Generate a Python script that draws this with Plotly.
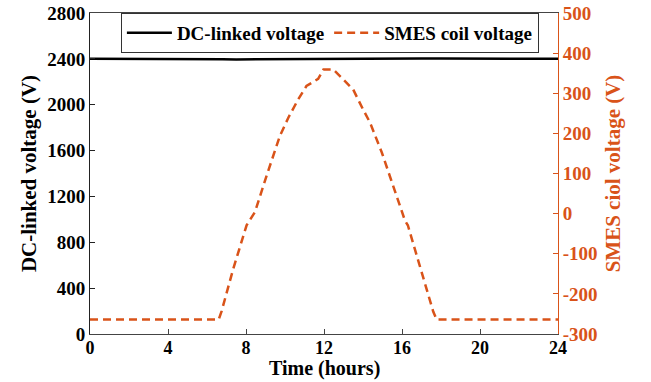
import plotly.graph_objects as go

# Time axis (hours) and measured voltages
hours_dc = [0, 2, 4, 6, 6.8, 7.5, 8.5, 9.5, 10.5, 11.5, 12.2, 13, 14, 15, 16, 17, 18, 20, 22, 24]
dc_voltage = [2402, 2402, 2402, 2401, 2396, 2395, 2396, 2397, 2399, 2401, 2404, 2406, 2406, 2405, 2405, 2404, 2403, 2402, 2401, 2401]

hours_smes = [0, 6.6, 6.75, 7.35, 8.03, 8.46, 9.06, 9.74, 10.17, 10.68, 11.1, 11.7, 11.97,
              12.48, 13.0, 13.5, 14.0, 14.36, 14.96, 15.55, 16.15, 16.3, 16.9, 17.6, 17.78, 24]
smes_voltage = [-264, -264, -243, -137, -29, 4, 95, 194, 239, 285, 318, 336, 359,
                359, 334, 309, 260, 227, 153, 70, -17, -29, -128, -244, -264, -264]

x_ticks = [0, 4, 8, 12, 16, 20, 24]
left_ticks = [0, 400, 800, 1200, 1600, 2000, 2400, 2800]
right_ticks = [-300, -200, -100, 0, 100, 200, 300, 400, 500]

ORANGE = "#D95319"
FONT = "Liberation Serif"
TICK_SIZE = 19
TITLE_SIZE = 21

fig = go.Figure()
fig.add_trace(go.Scatter(
    x=hours_dc, y=dc_voltage, mode="lines", name="<b>DC-linked voltage</b>",
    line=dict(color="black", width=2.5), yaxis="y"))
fig.add_trace(go.Scatter(
    x=hours_smes, y=smes_voltage, mode="lines", name="<b>SMES coil voltage</b>",
    line=dict(color=ORANGE, width=2.5, dash="8px,5px"), yaxis="y2"))

fig.update_layout(
    width=651, height=382,
    margin=dict(l=90, r=93, t=13, b=48),
    paper_bgcolor="white", plot_bgcolor="white",
    font=dict(family=FONT, size=TICK_SIZE, color="black"),
    showlegend=True,
    legend=dict(
        orientation="h", x=0.066, y=1.0, xanchor="left", yanchor="top",
        bgcolor="white", bordercolor="#333333", borderwidth=1,
        font=dict(family=FONT, size=19, color="black"),
        itemwidth=45, tracegroupgap=0,
    ),
    xaxis=dict(
        range=[0, 24], tickvals=x_ticks, ticktext=[f"<b>{v}</b>" for v in x_ticks],
        showgrid=False, zeroline=False, automargin=False,
        showline=True, linecolor="#444444", linewidth=1, mirror=True,
        ticks="inside", ticklen=5, tickcolor="#444444", ticklabelstandoff=-3,
        tickfont=dict(family=FONT, size=18, color="black"),
    ),
    yaxis=dict(
        range=[0, 2800], tickvals=left_ticks, ticktext=[f"<b>{v}</b>" for v in left_ticks],
        showgrid=False, zeroline=False, automargin=False,
        showline=True, linecolor="#222222", linewidth=1,
        ticks="inside", ticklen=5, tickcolor="#222222",
        tickfont=dict(family=FONT, size=TICK_SIZE, color="black"),
        title=dict(text="<b>DC-linked voltage (V)</b>", font=dict(family=FONT, size=TITLE_SIZE), standoff=4),
    ),
    yaxis2=dict(
        range=[-300, 500], tickvals=right_ticks, ticktext=[f"<b>{v}</b>" for v in right_ticks],
        overlaying="y", side="right", automargin=False,
        showgrid=False, zeroline=False,
        showline=True, linecolor=ORANGE, linewidth=1,
        ticks="inside", ticklen=5, tickcolor=ORANGE,
        tickfont=dict(family=FONT, size=TICK_SIZE, color=ORANGE),
        title=dict(text="<b>SMES ciol voltage (V)</b>", font=dict(family=FONT, size=TITLE_SIZE, color=ORANGE), standoff=8),
    ),
    annotations=[dict(
        text="<b>Time (hours)</b>", xref="paper", yref="paper",
        x=0.5, y=-0.1495, xanchor="center", yanchor="bottom", showarrow=False,
        font=dict(family=FONT, size=20, color="black"),
    )],
)

fig.write_html("out.html")
